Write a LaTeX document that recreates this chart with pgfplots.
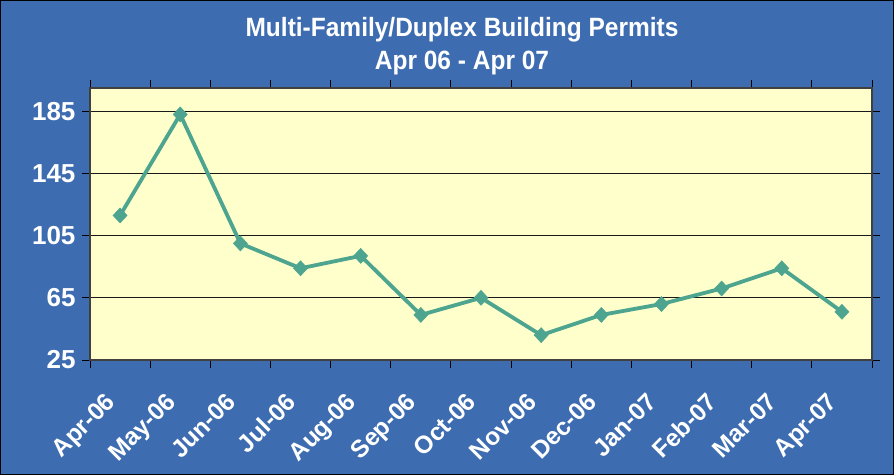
\documentclass[border=0pt]{standalone}
\usepackage{fontspec}
\setmainfont{Liberation Sans}
\usepackage{pgfplots}
\pgfplotsset{compat=1.18}
\definecolor{bgblue}{RGB}{61,108,176}
\definecolor{plotyellow}{RGB}{255,255,204}
\definecolor{lineteal}{RGB}{77,165,143}
\begin{document}
\begin{tikzpicture}
\path[use as bounding box] (0pt,0pt) rectangle (894pt,475pt);
\fill[bgblue,draw=black,line width=1.2pt] (0.6pt,0.6pt) rectangle (893.4pt,474.4pt);
\node[anchor=base,text=white,yscale=1.08,font=\bfseries\fontsize{24.5}{30}\selectfont] at (462pt,438pt) {Multi-Family/Duplex Building Permits};
\node[anchor=base,text=white,yscale=1.08,font=\bfseries\fontsize{24.5}{30}\selectfont] at (462pt,405pt) {Apr 06 - Apr 07};
\begin{axis}[
  at={(90pt,115pt)}, anchor=south west,
  scale only axis, width=782pt, height=272pt,
  xmin=-0.5, xmax=12.5, ymin=25, ymax=200,
  ytick={25,65,105,145,185},
  xtick={-0.5,0.5,...,12.5},
  x tick label as interval,
  xticklabels={Apr-06,May-06,Jun-06,Jul-06,Aug-06,Sep-06,Oct-06,Nov-06,Dec-06,Jan-07,Feb-07,Mar-07,Apr-07},
  axis background/.style={fill=plotyellow},
  ymajorgrids,
  grid style={black!90, line width=0.8pt},
  axis line style={black!75, line width=1.2pt},
  tick align=outside,
  major tick length=8pt,
  tick style={black, line width=1pt},
  /pgf/number format/assume math mode=true,
  yticklabel style={font=\bfseries\fontsize{26}{26}\selectfont, text=white, xshift=-3pt},
  xticklabel style={font=\bfseries\fontsize{24.5}{24.5}\selectfont, text=white, rotate=45, anchor=north east, xshift=-24pt, yshift=-2pt},
  clip=false,
]
\addplot[lineteal, line width=3.8pt, mark=diamond*, mark size=7.5pt,
  mark options={solid, fill=lineteal, line width=0.5pt, xscale=1.25}]
  coordinates {
  (0,118) (1,183) (2,100) (3,84) (4,92) (5,54) (6,65) (7,41) (8,54) (9,61) (10,71) (11,84) (12,56)
  };
\end{axis}
\end{tikzpicture}
\end{document}
